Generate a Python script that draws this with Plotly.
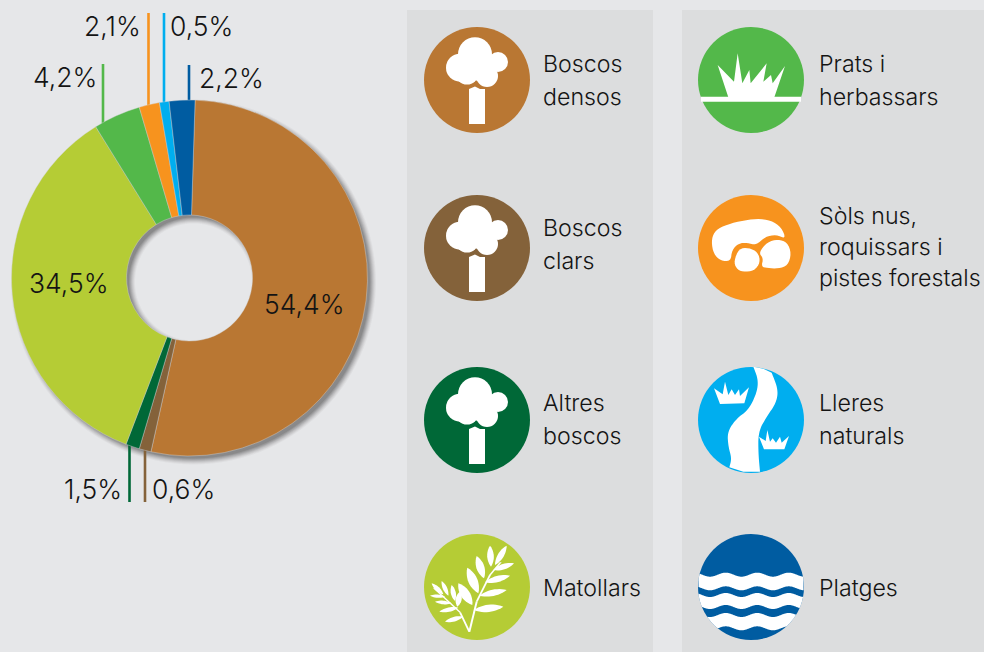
import math
import plotly.graph_objects as go

# ---- data ----
categories = ["Boscos densos", "Boscos clars", "Altres boscos", "Matollars",
              "Prats i herbassars", "Sòls nus, roquissars i pistes forestals",
              "Lleres naturals", "Platges"]
# Percentages as printed on the chart
value_labels = ["54,4%", "0,6%", "1,5%", "34,5%", "4,2%", "2,1%", "0,5%", "2,2%"]
# Slice sizes as drawn in the picture (% of the circle, read from the slice edges);
# the original's slices are not exactly proportional to its printed percentages.
slice_shares = [52.97, 1.08, 1.25, 35.36, 4.28, 1.85, 0.87, 2.33]
colors = ["#b97733", "#84623a", "#006837", "#b5cc35", "#53b84a", "#f7931e", "#00aeef", "#005ca1"]

W, H = 984, 652
BG, PANEL = "#e6e7e9", "#dcddde"
CX, CY, R, RH = 189.5, 278, 178, 63
FONT = "Inter"
TXT = "#141414"


def px(x): return x / W
def py(y): return 1 - y / H


def path(pts):
    return "M" + " L".join(f"{px(x):.5f} {py(y):.5f}" for x, y in pts) + " Z"


def ring(cx, cy, r, n=120):
    return [(cx + r * math.cos(2 * math.pi * i / n), cy + r * math.sin(2 * math.pi * i / n)) for i in range(n)]


def smooth(pts, rounds=3):
    for _ in range(rounds):
        out = []
        for i, (a, b) in enumerate(pts):
            c, d = pts[(i + 1) % len(pts)]
            out += [(.75 * a + .25 * c, .75 * b + .25 * d), (.25 * a + .75 * c, .25 * b + .75 * d)]
        pts = out
    return pts


def smooth_open(pts, rounds=3):
    for _ in range(rounds):
        out = [pts[0]]
        for (a, b), (c, d) in zip(pts, pts[1:]):
            out += [(.75 * a + .25 * c, .75 * b + .25 * d), (.25 * a + .75 * c, .25 * b + .75 * d)]
        out.append(pts[-1])
        pts = out
    return pts


shapes = []
annotations = []


def fill(pts, color="white", layer="below", **kw):
    shapes.append(dict(type="path", path=path(pts), xref="paper", yref="paper",
                       fillcolor=color, line=dict(width=0), layer=layer, **kw))


def circle(cx, cy, r, color="white", layer="below"):
    shapes.append(dict(type="circle", xref="paper", yref="paper", x0=px(cx - r), x1=px(cx + r),
                       y0=py(cy + r), y1=py(cy - r), fillcolor=color, line=dict(width=0), layer=layer))


def rect(x0, y0, x1, y1, color):
    shapes.append(dict(type="rect", xref="paper", yref="paper", x0=px(x0), x1=px(x1),
                       y0=py(y1), y1=py(y0), fillcolor=color, line=dict(width=0), layer="below"))


def vline(x, y0, y1, color):
    shapes.append(dict(type="line", xref="paper", yref="paper", x0=px(x), x1=px(x),
                       y0=py(y0), y1=py(y1), line=dict(color=color, width=2.6), layer="below"))


def label(x, y, text, anchor="left", size=26.5):
    annotations.append(dict(x=px(x), y=py(y), xref="paper", yref="paper", text=text, showarrow=False,
                            xanchor=anchor, yanchor="middle", borderpad=0, borderwidth=0,
                            font=dict(family=FONT, size=size, color=TXT, weight=300)))


# ---- panels ----
rect(407, 10, 653, 652, PANEL)
rect(682, 10, 984, 652, PANEL)

# ---- pie shadow ----
for k, op in enumerate([.04, .06, .08, .10, .12, .14, .16]):
    d = 4.5 - k
    p = ring(CX + 4, CY + 4, R + d)
    q = ring(CX + 4, CY + 4, RH - d)
    shapes.append(dict(type="path", path=path(p) + " " + path(q), xref="paper", yref="paper",
                       fillcolor="#3a3a3a", opacity=op, fillrule="evenodd", line=dict(width=0), layer="below"))

# ---- leader lines ----
vline(103, 64, 124, colors[4])
vline(148.5, 13, 106, colors[5])
vline(164, 13, 104, colors[6])
vline(189, 65, 102, colors[7])
vline(129.5, 443, 502, colors[2])
vline(145, 450, 502, colors[1])

# ---- value labels ----
label(141, 26, value_labels[5], "right")
label(170, 26, value_labels[6])
label(97, 77, value_labels[4], "right")
label(199, 78, value_labels[7])
label(29, 283, value_labels[3])
label(264, 304, value_labels[0])
label(122, 489, value_labels[2], "right")
label(152, 489, value_labels[1])

# ---- legend text ----
LX1, LX2 = 543, 819
for x, y, t in [
    (LX1, 64, "Boscos"), (LX1, 97, "densos"), (LX1, 228, "Boscos"), (LX1, 261, "clars"),
    (LX1, 403, "Altres"), (LX1, 436, "boscos"), (LX1, 588, "Matollars"),
    (LX2, 64, "Prats i"), (LX2, 97, "herbassars"), (LX2, 216, "Sòls nus,"), (LX2, 247, "roquissars i"),
    (LX2, 278, "pistes forestals"), (LX2, 403, "Lleres"), (LX2, 436, "naturals"), (LX2, 588, "Platges"),
]:
    label(x, y, t, size=23.2)


# ---- icons ----
def tree(cx, cy, color):
    circle(cx, cy, 53, color)
    for dx, dy, r in [(-2, -25.7, 17), (-17, -12.3, 14), (21, -18, 10), (10, -4, 11), (2, -14, 15), (-10, -7, 11.5)]:
        circle(cx + dx, cy + dy, r)
    fill([(cx + a, cy + b) for a, b in [(-8, 9), (-2, 6.6), (3, 9), (8, 9), (8, 44), (-8, 44)]])


tree(477, 80, colors[0])
tree(477, 248, colors[1])
tree(477, 420, colors[2])


def zoompts(pts, ox, oy):
    return [(ox + a / 3, oy + b / 3) for a, b in pts]


def lens(a, b, c, d, w, ox, oy):
    a, b, c, d = ox + a / 3, oy + b / 3, ox + c / 3, oy + d / 3
    L = math.hypot(c - a, d - b)
    nx, ny = -(d - b) / L, (c - a) / L
    pts = []
    for s, side in ((1, 1), (-1, -1)):
        for i in range(13):
            t = i / 12 if s == 1 else 1 - i / 12
            o = side * (w / 6) * math.sin(math.pi * t) ** .8
            pts.append((a + (c - a) * t + nx * o, b + (d - b) * t + ny * o))
    return pts


# Matollars
circle(477, 587, 53, colors[3])
for a, b, c, d, w in [
    (240, 62, 243, 125, 20), (290, 62, 255, 120, 18), (200, 93, 222, 160, 24), (312, 115, 250, 135, 17),
    (172, 128, 205, 205, 28), (300, 152, 225, 172, 19), (290, 195, 208, 212, 19), (280, 245, 192, 255, 22),
    (145, 175, 187, 240, 28), (150, 200, 142, 245, 18), (125, 180, 135, 228, 15), (95, 168, 115, 212, 13),
    (65, 175, 100, 208, 13), (60, 212, 105, 215, 10), (75, 230, 125, 235, 11), (88, 260, 145, 248, 13),
    (105, 290, 160, 275, 14),
]:
    fill(lens(a, b, c, d, w, 410, 525))
for seg in ([(178, 320), (200, 230), (240, 150), (272, 112)], [(178, 320), (150, 262), (100, 215), (72, 190)]):
    for (a, b), (c, d) in zip(seg, seg[1:]):
        fill([(410 + a / 3 - 1, 525 + b / 3), (410 + c / 3 - 1, 525 + d / 3),
              (410 + c / 3 + 1, 525 + d / 3), (410 + a / 3 + 1, 525 + b / 3)])

# Prats
circle(751, 80, 53, colors[4])
fill(zoompts([(115, 232), (83, 135), (132, 185), (143, 100), (157, 190), (178, 150), (182, 190), (230, 130),
              (220, 185), (243, 165), (248, 190), (285, 138), (253, 232)], 690, 20))
rect(701, 96.7, 801, 101.7, "white")

# Sols
circle(751, 248, 53, colors[5])
fill(smooth(zoompts([(64, 155), (72, 126), (98, 108), (150, 93), (200, 86), (243, 91), (274, 112), (288, 147),
                     (258, 134), (226, 140), (198, 166), (172, 158), (146, 160), (126, 180), (122, 214),
                     (92, 212), (71, 192)], 690, 190), 2))
fill(smooth(zoompts([(206, 188), (232, 156), (264, 148), (292, 157), (304, 190), (294, 226), (265, 236),
                     (232, 234), (214, 230), (220, 205)], 690, 190), 2))
fill(smooth(zoompts([(132, 212), (147, 176), (176, 173), (204, 187), (211, 217), (193, 242), (158, 246),
                     (138, 235)], 690, 190), 2))

# Lleres
circle(751, 420, 53, colors[6])
left_edge = smooth_open(zoompts([(190, 20), (205, 60), (200, 100), (175, 150), (140, 175), (112, 215), (115, 260),
                                 (125, 295), (118, 322)], 690, 360))
right_edge = smooth_open(zoompts([(210, 335), (205, 280), (205, 215), (230, 170), (258, 130), (265, 90),
                                  (245, 38)], 690, 360))
fill(left_edge + zoompts([(160, 335)], 690, 360) + right_edge + zoompts([(220, 26)], 690, 360))
fill(zoompts([(72, 85), (90, 132), (163, 130), (177, 82), (150, 108), (147, 88), (135, 105), (125, 88),
              (115, 105), (105, 65), (98, 103)], 690, 360))
fill(zoompts([(207, 230), (222, 268), (283, 268), (297, 228), (275, 248), (270, 230), (258, 248), (248, 235),
              (240, 245), (232, 210), (227, 243)], 690, 360))

# Platges
circle(751, 587, 53, colors[7])
cx, cy, r = 751, 587, 53
for top, bot in [(149, 190), (210, 246), (270, 310)]:
    t0, b0 = 525 + top / 3, 525 + bot / 3
    up, low = [], []
    x = cx - r
    while x <= cx + r:
        h = math.sqrt(max(r * r - (x - cx) ** 2, 0))
        wave = 2 * math.cos((x - 710) * 2 * math.pi / 31.5)
        u, l = max(t0 + wave, cy - h), min(b0 + wave, cy + h)
        if u < l:
            up.append((x, u))
            low.append((x, l))
        x += .5
    fill(up + low[::-1])

# ---- pie ----
fig = go.Figure(go.Pie(
    labels=categories, values=slice_shares, sort=False, direction="clockwise", rotation=1.8, hole=RH / R,
    marker=dict(colors=colors, line=dict(color="#d3d6d8", width=0.4)),
    textinfo="none", text=value_labels, hoverinfo="label+text", showlegend=False,
    domain=dict(x=[px(CX - R), px(CX + R)], y=[py(CY + R), py(CY - R)]),
))
fig.update_layout(width=W, height=H, margin=dict(l=0, r=0, t=0, b=0), paper_bgcolor=BG, plot_bgcolor=BG,
                  shapes=shapes, annotations=annotations)
fig.write_html("out.html", config={"displayModeBar": False},
               post_script="document.body.style.margin='0';document.body.style.overflow='hidden';")
